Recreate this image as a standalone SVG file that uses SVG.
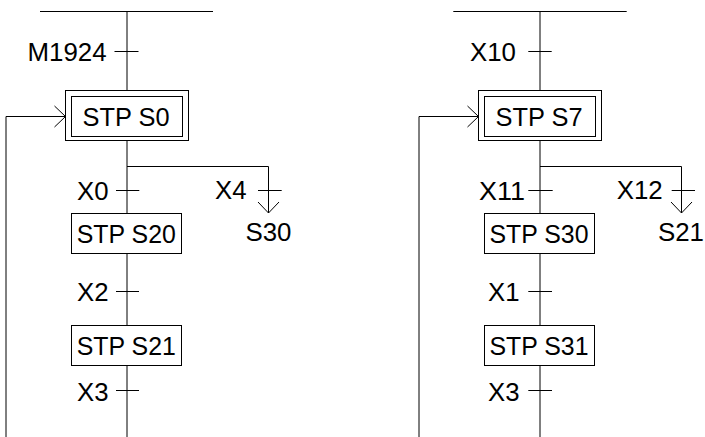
<svg xmlns="http://www.w3.org/2000/svg" width="705" height="437" viewBox="0 0 705 437">
<style>
  .ln { fill: none; stroke: #000; stroke-width: 1; }
  .box { fill: #fff; stroke: #000; stroke-width: 1; }
  .t { font-family: "Liberation Sans", Arial, sans-serif; font-size: 26px; fill: #000; }
</style>
<defs>
  <marker id="arr" markerUnits="userSpaceOnUse" markerWidth="12" markerHeight="24" refX="11" refY="12" orient="auto" overflow="visible">
    <path d="M0,1.5 L11,12 L0,22.5" fill="none" stroke="#000" stroke-width="1"/>
  </marker>
</defs>
<g id="connectors">
  <!-- left chart -->
  <line class="ln" x1="40" y1="11.5" x2="213" y2="11.5"/>
  <line class="ln" x1="127" y1="11.5" x2="127" y2="90.5"/>
  <line class="ln" x1="127" y1="140.5" x2="127" y2="213.5"/>
  <line class="ln" x1="127" y1="253.5" x2="127" y2="325.5"/>
  <line class="ln" x1="127" y1="365.5" x2="127" y2="437"/>
  <polyline class="ln" points="6,437 6,116.5 65.5,116.5" marker-end="url(#arr)"/>
  <polyline class="ln" points="127,166.5 268.5,166.5 268.5,213" marker-end="url(#arr)"/>
  <!-- right chart -->
  <line class="ln" x1="453.3" y1="11.5" x2="626.7" y2="11.5"/>
  <line class="ln" x1="540" y1="11.5" x2="540" y2="90.5"/>
  <line class="ln" x1="540" y1="140.5" x2="540" y2="213.5"/>
  <line class="ln" x1="540" y1="253.5" x2="540" y2="325.5"/>
  <line class="ln" x1="540" y1="365.5" x2="540" y2="437"/>
  <polyline class="ln" points="419,437 419,116.5 478.5,116.5" marker-end="url(#arr)"/>
  <polyline class="ln" points="540,166.5 681.5,166.5 681.5,213" marker-end="url(#arr)"/>
</g>
<g id="transitions">
  <g id="tr-M1924"><line class="ln" x1="114.5" y1="51.5" x2="138.5" y2="51.5"/><text class="t" x="27.5" y="61" textLength="79" lengthAdjust="spacingAndGlyphs">M1924</text></g>
  <g id="tr-X0"><line class="ln" x1="116" y1="190.5" x2="139.3" y2="190.5"/><text class="t" x="77" y="200" textLength="31.5" lengthAdjust="spacingAndGlyphs">X0</text></g>
  <g id="tr-X4"><line class="ln" x1="258" y1="190.5" x2="281.7" y2="190.5"/><text class="t" x="215" y="199" textLength="31.5" lengthAdjust="spacingAndGlyphs">X4</text></g>
  <g id="tr-X2"><line class="ln" x1="116" y1="291.5" x2="139" y2="291.5"/><text class="t" x="77" y="301" textLength="31.5" lengthAdjust="spacingAndGlyphs">X2</text></g>
  <g id="tr-X3a"><line class="ln" x1="116" y1="390.5" x2="139" y2="390.5"/><text class="t" x="77" y="400.5" textLength="31.5" lengthAdjust="spacingAndGlyphs">X3</text></g>
  <g id="tr-X10"><line class="ln" x1="528.3" y1="51.5" x2="551.7" y2="51.5"/><text class="t" x="470" y="61" textLength="46" lengthAdjust="spacingAndGlyphs">X10</text></g>
  <g id="tr-X11"><line class="ln" x1="528.3" y1="190.5" x2="552.7" y2="190.5"/><text class="t" x="479" y="200" textLength="46" lengthAdjust="spacingAndGlyphs">X11</text></g>
  <g id="tr-X12"><line class="ln" x1="671.7" y1="190.5" x2="695" y2="190.5"/><text class="t" x="616.7" y="199" textLength="46" lengthAdjust="spacingAndGlyphs">X12</text></g>
  <g id="tr-X1"><line class="ln" x1="528.3" y1="291.5" x2="552" y2="291.5"/><text class="t" x="488" y="301" textLength="31.5" lengthAdjust="spacingAndGlyphs">X1</text></g>
  <g id="tr-X3b"><line class="ln" x1="528.3" y1="390.5" x2="552" y2="390.5"/><text class="t" x="488" y="400.5" textLength="31.5" lengthAdjust="spacingAndGlyphs">X3</text></g>
</g>
<g id="step-S0"><rect class="box" x="65.5" y="90.5" width="123" height="50"/><rect class="box" x="71.5" y="96.5" width="111" height="40"/><text class="t" x="82.5" y="125.5" textLength="87" lengthAdjust="spacingAndGlyphs">STP S0</text></g>
<g id="step-S20"><rect class="box" x="71.5" y="213.5" width="110" height="40"/><text class="t" x="76.8" y="243" textLength="99" lengthAdjust="spacingAndGlyphs">STP S20</text></g>
<g id="step-S21"><rect class="box" x="71.5" y="325.5" width="110" height="40"/><text class="t" x="76.8" y="355" textLength="99" lengthAdjust="spacingAndGlyphs">STP S21</text></g>
<g id="jump-S30"><text class="t" x="245.5" y="241" textLength="46" lengthAdjust="spacingAndGlyphs">S30</text></g>
<g id="step-S7"><rect class="box" x="478.5" y="90.5" width="123" height="50"/><rect class="box" x="484.5" y="96.5" width="111" height="40"/><text class="t" x="495.5" y="125.5" textLength="87" lengthAdjust="spacingAndGlyphs">STP S7</text></g>
<g id="step-S30"><rect class="box" x="484.5" y="213.5" width="110" height="40"/><text class="t" x="489.5" y="243" textLength="99" lengthAdjust="spacingAndGlyphs">STP S30</text></g>
<g id="step-S31"><rect class="box" x="484.5" y="325.5" width="110" height="40"/><text class="t" x="489.5" y="355" textLength="99" lengthAdjust="spacingAndGlyphs">STP S31</text></g>
<g id="jump-S21"><text class="t" x="658" y="241" textLength="46" lengthAdjust="spacingAndGlyphs">S21</text></g>
</svg>
